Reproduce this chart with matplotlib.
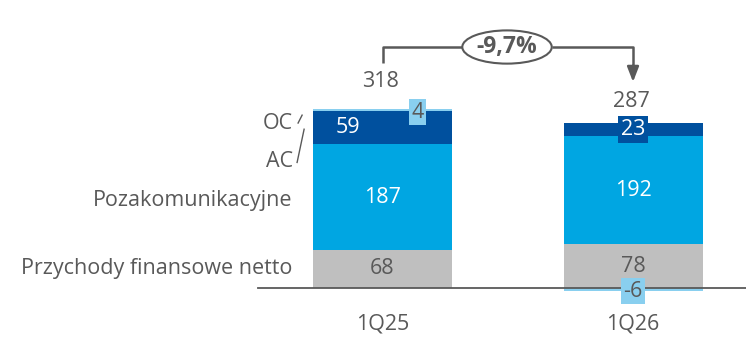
import matplotlib.pyplot as plt
from matplotlib.patches import Ellipse

plt.rcParams['font.family'] = ['Open Sans', 'DejaVu Sans']

quarters = ['1Q25', '1Q26']
fin = [68, 78]          # Przychody finansowe netto
pozakom = [187, 192]    # Pozakomunikacyjne
ac = [59, 23]
oc = [4, -6]
totals = [318, 287]
change_label = '-9,7%'

c_gray = '#BFBFBF'
c_light = '#00A6E2'
c_dark = '#00509E'
c_oc = '#89CFEF'
c_text = '#595959'

fig = plt.figure(figsize=(7.46, 3.37), dpi=100)
ax = fig.add_axes([0, 0, 1, 1])
ax.set_xlim(-1.527, 1.451)
ax.set_ylim(-87, 511.5)
ax.axis('off')

x = [0, 1]
w = 0.555
bottom_pos = [0, 0]
for vals, col in [(fin, c_gray), (pozakom, c_light), (ac, c_dark)]:
    ax.bar(x, vals, w, bottom=bottom_pos, color=col, zorder=2)
    bottom_pos = [b + v for b, v in zip(bottom_pos, vals)]
# OC: positive on top, negative below zero
oc_bottom = [bottom_pos[i] if oc[i] > 0 else 0 for i in range(2)]
ax.bar(x, oc, w, bottom=oc_bottom, color=c_oc, zorder=2)

ax.axhline(0, xmin=0.346, xmax=1, color='#595959', lw=1.3, zorder=3)

fs = 15.5
for i in x:
    ax.text(i, fin[i] / 2, str(fin[i]), ha='center', va='center', fontsize=fs, color=c_text, zorder=4)
    ax.text(i, fin[i] + pozakom[i] / 2, str(pozakom[i]), ha='center', va='center', fontsize=fs, color='white', zorder=4)
    ax.text(i, -64, quarters[i], ha='center', va='center', fontsize=fs, color=c_text)

# AC labels
ac_mid0 = fin[0] + pozakom[0] + ac[0] / 2
ax.text(-0.14, ac_mid0, str(ac[0]), ha='center', va='center', fontsize=fs, color='white', zorder=4)
ac_mid1 = fin[1] + pozakom[1] + ac[1] / 2
ax.text(1, ac_mid1, str(ac[1]), ha='center', va='center', fontsize=fs, color='white', zorder=4,
        bbox=dict(boxstyle='square,pad=0.15', fc=c_dark, ec='none'))

# OC labels
ax.text(0.14, fin[0] + pozakom[0] + ac[0] - 2, str(oc[0]), ha='center', va='center', fontsize=fs,
        color=c_text, zorder=4, bbox=dict(boxstyle='square,pad=0.12', fc=c_oc, ec='none'))
ax.text(1, -6, str(oc[1]), ha='center', va='center', fontsize=fs, color=c_text, zorder=4,
        bbox=dict(boxstyle='square,pad=0.12', fc=c_oc, ec='none'))

# totals
ax.text(-0.01, 366, str(totals[0]), ha='center', va='center', fontsize=fs, color=c_text)
ax.text(0.995, 332, str(totals[1]), ha='center', va='center', fontsize=fs, color=c_text)

# category labels on the left
lx = -0.358
ax.text(lx, 293, 'OC', ha='right', va='center', fontsize=fs, color=c_text)
ax.text(lx, 224, 'AC', ha='right', va='center', fontsize=fs, color=c_text)
ax.text(lx, 155, 'Pozakomunikacyjne', ha='right', va='center', fontsize=fs, color=c_text)
ax.text(lx, 34, 'Przychody finansowe netto', ha='right', va='center', fontsize=fs, color=c_text)
ax.plot([-0.337, -0.321], [293, 307], color=c_text, lw=1)
ax.plot([-0.341, -0.313], [223, 282], color=c_text, lw=1)

# change bracket
yb = 428
ax.plot([0.002, 0.002, 0.317], [399, yb, yb], color='#595959', lw=1.8, solid_capstyle='butt')
ax.plot([0.677, 1.0, 1.0], [yb, yb, 393], color='#595959', lw=1.8, solid_capstyle='butt')
ax.annotate('', xy=(1.0, 366), xytext=(1.0, 395),
            arrowprops=dict(arrowstyle='-|>,head_width=0.35,head_length=0.9', color='#595959', lw=1.8,
                            shrinkA=0, shrinkB=0))
ax.add_patch(Ellipse((0.497, yb), 0.357, 59, fc='white', ec='#595959', lw=1.5, zorder=3))
ax.text(0.497, yb, change_label, ha='center', va='center', fontsize=16.5, fontweight='bold', color=c_text, zorder=4)

fig.savefig('out.png', dpi=100)
